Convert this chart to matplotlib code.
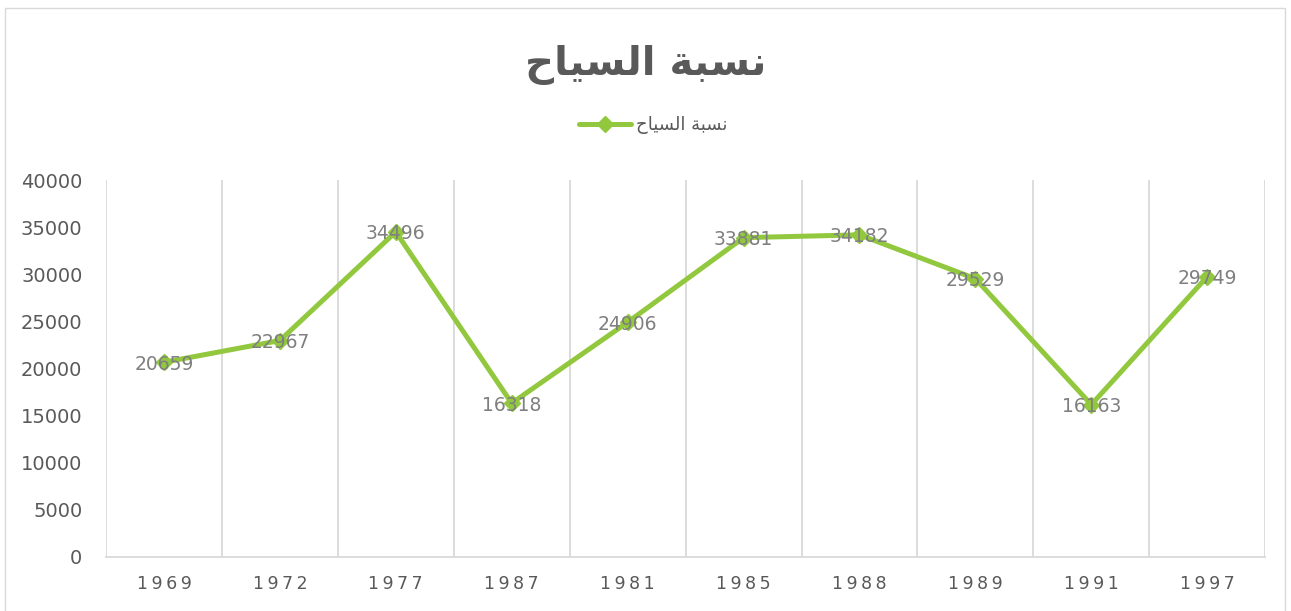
import numpy as np
import matplotlib.pyplot as plt
from matplotlib.patches import Rectangle

# بيانات المخطط
years = ['1969', '1972', '1977', '1987', '1981', '1985', '1988', '1989', '1991', '1997']
tourists = [20659, 22967, 34496, 16318, 24906, 33881, 34182, 29529, 16163, 29749]
title_text = 'نسبة السياح'
series_name = 'نسبة السياح'
y_ticks = [0, 5000, 10000, 15000, 20000, 25000, 30000, 35000, 40000]

# matplotlib لا يشكّل الحروف العربية، لذا نحوّلها يدويا إلى أشكال العرض
FORMS = {
    'ن': (0xFEE5, 0xFEE6, 0xFEE7, 0xFEE8),
    'س': (0xFEB1, 0xFEB2, 0xFEB3, 0xFEB4),
    'ب': (0xFE8F, 0xFE90, 0xFE91, 0xFE92),
    'ة': (0xFE93, 0xFE94, None, None),
    'ا': (0xFE8D, 0xFE8E, None, None),
    'ل': (0xFEDD, 0xFEDE, 0xFEDF, 0xFEE0),
    'ي': (0xFEF1, 0xFEF2, 0xFEF3, 0xFEF4),
    'ح': (0xFEA1, 0xFEA2, 0xFEA3, 0xFEA4),
}


def shape_ar(s):
    out = []
    for i, c in enumerate(s):
        if c not in FORMS:
            out.append(c)
            continue
        prev = s[i - 1] if i > 0 else ''
        nxt = s[i + 1] if i + 1 < len(s) else ''
        j_prev = prev in FORMS and FORMS[prev][2] is not None
        j_next = nxt in FORMS and FORMS[c][2] is not None
        iso, fin, ini, med = FORMS[c]
        if j_prev and j_next:
            out.append(chr(med))
        elif j_prev:
            out.append(chr(fin))
        elif j_next:
            out.append(chr(ini))
        else:
            out.append(chr(iso))
    return ''.join(out)[::-1]


plt.rcParams['font.family'] = ['DejaVu Sans']

fig = plt.figure(figsize=(12.91, 6.11), dpi=100)
ax = fig.add_axes([0.0821, 0.0884, 0.8979, 0.617])

green = '#92C83E'
x = np.arange(len(years))
ax.plot(x, tourists, color=green, lw=3.6, marker='D', ms=8,
        label=shape_ar(series_name), solid_capstyle='round')

for xi, v in zip(x, tourists):
    ax.text(xi, v - 200, str(v), ha='center', va='center', fontsize=13.5, color='#7f7f7f')

ax.set_xlim(-0.5, len(years) - 0.5)
ax.set_ylim(0, 40000)
ax.set_yticks(y_ticks)
ax.set_yticklabels([str(t) for t in y_ticks], fontsize=14, color='#595959')
ax.set_xticks(x)
ax.set_xticklabels(['\u2009'.join(y) for y in years], fontsize=12.5, color='#595959')
ax.set_xticks(np.arange(-0.5, len(years)), minor=True)
ax.tick_params(which='both', length=0)
ax.tick_params(axis='x', pad=13)
ax.tick_params(axis='y', pad=17)
ax.grid(which='minor', axis='x', color='#d9d9d9', lw=1.3)
for sp in ['top', 'left', 'right']:
    ax.spines[sp].set_visible(False)
ax.spines['bottom'].set_color('#d9d9d9')
ax.spines['bottom'].set_linewidth(1.3)

fig.text(0.5, 0.893, shape_ar(title_text), ha='center', va='center',
         fontsize=29, fontweight='bold', color='#595959')

leg = fig.legend(loc='center', bbox_to_anchor=(0.506, 0.795), frameon=False,
                 fontsize=13, handlelength=2.9, handletextpad=0.3)
for t in leg.get_texts():
    t.set_color('#595959')

fig.patches.append(Rectangle((5 / 1291, -0.01), 1280 / 1291, 1 - 8 / 611 + 0.01,
                             transform=fig.transFigure, fill=False,
                             edgecolor='#d9d9d9', lw=1))

fig.savefig('out.png', dpi=100)
